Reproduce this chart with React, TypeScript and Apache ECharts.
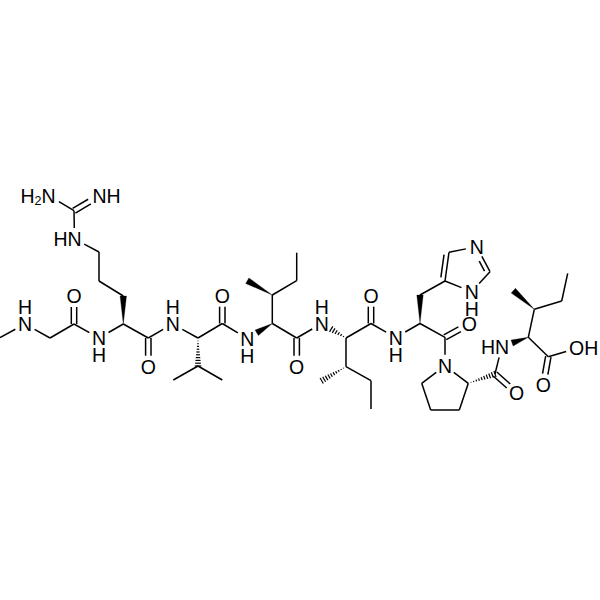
import React, { useEffect, useRef } from "react";
import * as echarts from "echarts";

// atoms: id, x, y (labelled heteroatoms start with N or O)
const atoms: [string, number, number][] = [
  ["me0", 0, 337.5], ["N1", 25, 324], ["c1", 50, 338], ["c2", 74, 324], ["O2", 74, 296], ["N3", 99, 338],
  ["ca1", 123.3, 324], ["cb1", 123.3, 296], ["cg1", 99, 281], ["cd1", 99, 252], ["Ne", 74.5, 239], ["cz", 74, 210.7],
  ["Nh2", 49.5, 196], ["Nh1", 99, 196], ["c3", 148.3, 338], ["O3", 148.3, 366.7], ["N4", 172.7, 324],
  ["ca2", 198, 338], ["cb2", 198, 366], ["cg2a", 173.3, 380], ["cg2b", 222.3, 380], ["c4", 222.3, 323.5], ["O4", 222.3, 295.7], ["N5", 247.3, 338.5],
  ["ca3", 272.3, 323.5], ["cb3", 272.3, 295], ["me3", 247.3, 280.7], ["cg3", 296.7, 280.7], ["cd3", 296.7, 252.7], ["c5", 296.7, 338], ["O5", 296.7, 366.7], ["N6", 321.7, 323.5],
  ["ca4", 346, 338], ["cb4", 346, 366.7], ["me4", 321.7, 380.7], ["cg4", 371, 380.7], ["cd4", 371, 409], ["c6", 371, 323.5], ["O6", 371, 295.7], ["N7", 395.7, 337.5],
  ["ca5", 420, 323.5], ["cb5", 420, 295], ["cg5", 445, 281], ["cd5", 449, 252.3], ["Ne5", 476.7, 246.7], ["ce5", 490, 271.7], ["Nd5", 471.7, 291.7],
  ["c7", 445, 337.3], ["O7", 469.3, 324], ["Np", 445, 365.7], ["cap", 468.3, 383.3], ["cbp", 459.3, 410], ["cgp", 430.7, 410], ["cdp", 421.7, 383.3],
  ["c8", 495, 374], ["O8", 516.7, 393.3], ["N8", 501.7, 346.7], ["ca6", 528.3, 337.3], ["cb6", 534.3, 309.3], ["me6", 513.3, 290.7], ["cg6", 561.7, 301], ["cd6", 567.7, 273.3],
  ["c9", 548.3, 356.7], ["Oh", 576.7, 348.3], ["O9", 543.3, 385],
];

// bonds: from, to, kind (wedge and hash widen towards "to")
const bonds: [string, string, string][] = [
  ["me0", "N1", "s"], ["N1", "c1", "s"], ["c1", "c2", "s"], ["c2", "O2", "d"], ["c2", "N3", "s"], ["N3", "ca1", "s"],
  ["ca1", "cb1", "w"], ["cb1", "cg1", "s"], ["cg1", "cd1", "s"], ["cd1", "Ne", "s"], ["Ne", "cz", "s"], ["cz", "Nh2", "s"], ["cz", "Nh1", "d"],
  ["ca1", "c3", "s"], ["c3", "O3", "d"], ["c3", "N4", "s"], ["N4", "ca2", "s"], ["ca2", "cb2", "h"], ["cb2", "cg2a", "s"], ["cb2", "cg2b", "s"],
  ["ca2", "c4", "s"], ["c4", "O4", "d"], ["c4", "N5", "s"], ["ca3", "N5", "w"], ["ca3", "cb3", "s"], ["cb3", "me3", "w"], ["cb3", "cg3", "s"], ["cg3", "cd3", "s"],
  ["ca3", "c5", "s"], ["c5", "O5", "d"], ["c5", "N6", "s"], ["ca4", "N6", "h"], ["ca4", "cb4", "s"], ["cb4", "me4", "h"], ["cb4", "cg4", "s"], ["cg4", "cd4", "s"],
  ["ca4", "c6", "s"], ["c6", "O6", "d"], ["c6", "N7", "s"], ["N7", "ca5", "s"], ["ca5", "cb5", "w"], ["cb5", "cg5", "s"],
  ["cg5", "cd5", "r"], ["cd5", "Ne5", "s"], ["Ne5", "ce5", "r"], ["ce5", "Nd5", "s"], ["Nd5", "cg5", "s"],
  ["ca5", "c7", "s"], ["c7", "O7", "d"], ["c7", "Np", "s"], ["Np", "cap", "s"], ["cap", "cbp", "s"], ["cbp", "cgp", "s"], ["cgp", "cdp", "s"], ["cdp", "Np", "s"],
  ["cap", "c8", "h"], ["c8", "O8", "d"], ["c8", "N8", "s"], ["ca6", "N8", "w"], ["ca6", "cb6", "s"], ["cb6", "me6", "w"], ["cb6", "cg6", "s"], ["cg6", "cd6", "s"],
  ["ca6", "c9", "s"], ["c9", "Oh", "s"], ["c9", "O9", "d"],
];

// labels: text, x, y (two-line labels are centred between their lines)
const labels: [string, number, number][] = [
  ["H\nN", 25, 315.5], ["O", 74, 296], ["N\nH", 99, 346.5], ["HN", 67.5, 239],
  ["{a|H}{s|2}{a|N}", 38, 196], ["NH", 106.5, 196], ["O", 148.3, 367], ["H\nN", 172.7, 315.5],
  ["O", 222.3, 295.7], ["N\nH", 247.3, 347], ["O", 296.7, 367], ["H\nN", 321.7, 315],
  ["O", 371, 295.7], ["N\nH", 395.7, 346], ["N", 476.7, 246.7], ["N\nH", 471.7, 300.3],
  ["O", 469.3, 324], ["N", 445, 365.7], ["O", 516.7, 393.3], ["HN", 495, 346.7], ["OH", 583.7, 348.3], ["O", 543.3, 385],
];

const atomById = new Map(atoms.map((a) => [a[0], a]));
const isHetero = (id: string) => id[0] === "N" || id[0] === "O";
const TRIM = 11;
const INK = "#000";
const LW = 1.5;
const FONT = "19.5px 'Liberation Sans', Arial, sans-serif";

function renderBond(_: any, api: any) {
  const bond = bonds[api.value(0)];
  const A = atomById.get(bond[0])!;
  const B = atomById.get(bond[1])!;
  let p = api.coord([A[1], A[2]]);
  let q = api.coord([B[1], B[2]]);
  const dx0 = q[0] - p[0], dy0 = q[1] - p[1];
  const len = Math.hypot(dx0, dy0);
  const ux = dx0 / len, uy = dy0 / len;
  const nx = -uy, ny = ux;
  if (isHetero(bond[0])) p = [p[0] + ux * TRIM, p[1] + uy * TRIM];
  if (isHetero(bond[1])) q = [q[0] - ux * TRIM, q[1] - uy * TRIM];
  const line = (a: number[], b: number[]) => ({
    type: "line",
    shape: { x1: a[0], y1: a[1], x2: b[0], y2: b[1] },
    style: { stroke: INK, lineWidth: LW, lineCap: "butt" },
  });
  const off = (a: number[], d: number) => [a[0] + nx * d, a[1] + ny * d];
  const children: any[] = [];
  const kind = bond[2];
  if (kind === "s") children.push(line(p, q));
  if (kind === "d") children.push(line(off(p, 2.7), off(q, 2.7)), line(off(p, -2.7), off(q, -2.7)));
  if (kind === "r") {
    const s = A[0] === "cg5" ? -1 : 1;
    const a2 = [p[0] + ux * 3, p[1] + uy * 3];
    const b2 = [q[0] - ux * 3, q[1] - uy * 3];
    children.push(line(p, q), line(off(a2, s * 4.6), off(b2, s * 4.6)));
  }
  if (kind === "w") {
    children.push({
      type: "polygon",
      shape: { points: [p, off(q, 3.2), off(q, -3.2)] },
      style: { fill: INK, stroke: INK, lineWidth: 0.3 },
    });
  }
  if (kind === "h") {
    const total = Math.hypot(q[0] - p[0], q[1] - p[1]);
    const n = Math.max(5, Math.round(total / 2.9));
    for (let i = 1; i <= n; i++) {
      const t = (i / n) * total;
      const c = [p[0] + ux * t, p[1] + uy * t];
      const w = (3.2 * t) / total;
      children.push({
        type: "line",
        shape: { x1: c[0] + nx * w, y1: c[1] + ny * w, x2: c[0] - nx * w, y2: c[1] - ny * w },
        style: { stroke: INK, lineWidth: 1.2 },
      });
    }
  }
  return { type: "group", children };
}

function renderLabel(_: any, api: any) {
  const item = labels[api.value(0)];
  const c = api.coord([item[1], item[2]]);
  return {
    type: "text",
    x: c[0],
    y: c[1],
    style: {
      text: item[0],
      fill: INK,
      font: FONT,
      lineHeight: 17,
      align: "center",
      verticalAlign: "middle",
      rich: {
        a: { font: FONT, fill: INK, lineHeight: 22 },
        s: { font: "12.5px 'Liberation Sans', Arial, sans-serif", fill: INK, lineHeight: 22, verticalAlign: "bottom", padding: [6, 0, 0, 0] },
      },
    },
  };
}

export default function App() {
  const ref = useRef<HTMLDivElement>(null);
  useEffect(() => {
    document.body.style.margin = "0";
    const chart = echarts.init(ref.current!, undefined, { renderer: "svg" });
    chart.setOption({
      animation: false,
      backgroundColor: "#fff",
      grid: { left: 0, right: 0, top: 0, bottom: 0 },
      xAxis: { type: "value", min: 0, max: 600, show: false },
      yAxis: { type: "value", min: 0, max: 600, inverse: true, show: false },
      series: [
        {
          type: "custom",
          coordinateSystem: "cartesian2d",
          silent: true,
          clip: false,
          encode: { x: 0, y: 1 },
          renderItem: renderBond,
          data: bonds.map((_, i) => [i, 0]),
        },
        {
          type: "custom",
          coordinateSystem: "cartesian2d",
          silent: true,
          clip: false,
          encode: { x: 0, y: 1 },
          renderItem: renderLabel,
          data: labels.map((_, i) => [i, 0]),
        },
      ],
    });
    return () => chart.dispose();
  }, []);
  return <div ref={ref} style={{ width: 600, height: 600 }} />;
}
